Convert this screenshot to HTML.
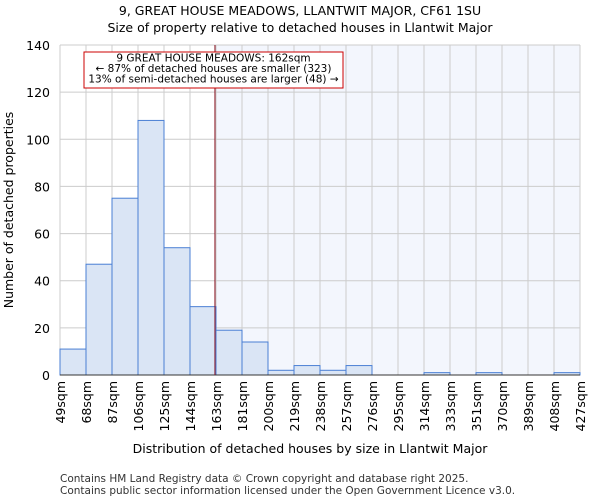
<!DOCTYPE html>
<html><head><meta charset="utf-8"><style>body{margin:0;background:#fff}svg{display:block;font-family:"DejaVu Sans","Liberation Sans",sans-serif}</style></head>
<body>
<svg width="600" height="500" viewBox="0 0 600 500">
<text x="300" y="15" text-anchor="middle" font-size="12.5">9, GREAT HOUSE MEADOWS, LLANTWIT MAJOR, CF61 1SU</text>
<text x="300" y="32" text-anchor="middle" font-size="12.5">Size of property relative to detached houses in Llantwit Major</text>
<g id="plot"></g>
<text x="310" y="453" text-anchor="middle" font-size="12.5">Distribution of detached houses by size in Llantwit Major</text>
<text transform="translate(13,210) rotate(-90)" text-anchor="middle" font-size="12.5">Number of detached properties</text>
<text x="60" y="482" font-size="10.5" fill="#333">Contains HM Land Registry data © Crown copyright and database right 2025.</text>
<text x="60" y="494" font-size="10.5" fill="#333">Contains public sector information licensed under the Open Government Licence v3.0.</text>
</svg>
<script>
const categories=["49sqm","68sqm","87sqm","106sqm","125sqm","144sqm","163sqm","181sqm","200sqm","219sqm","238sqm","257sqm","276sqm","295sqm","314sqm","333sqm","351sqm","370sqm","389sqm","408sqm","427sqm"];
const counts=[11,47,75,108,54,29,19,14,2,4,2,4,0,0,1,0,1,0,0,1];
const yTicks=[0,20,40,60,80,100,120,140];
const markerBin=6; const markerFrac=-0.04;
const NS="http://www.w3.org/2000/svg";
const g=document.getElementById('plot');
const X0=60,X1=580,Y0=375,Y1=45,YMAX=140;
const bw=(X1-X0)/counts.length;
const x=i=>X0+i*bw;
const y=v=>Y0-(v/YMAX)*(Y0-Y1);
function el(t,a){const e=document.createElementNS(NS,t);for(const k in a)e.setAttribute(k,a[k]);g.appendChild(e);return e;}
const mx=x(markerBin+markerFrac);
let r=el('rect',{x:mx,y:Y1,width:X1-mx,height:Y0-Y1,fill:'#f3f6fd'});


yTicks.forEach(v=>{let l=el('line',{x1:X0,x2:X1,y1:y(v),y2:y(v),stroke:'#ccc','stroke-width':1});


let t=el('text',{x:X0-10,y:y(v)+5,'text-anchor':'end','font-size':'12.5'});t.textContent=v;

});
categories.forEach((c,i)=>{let l=el('line',{x1:x(i),x2:x(i),y1:Y1,y2:Y0,stroke:'#ccc','stroke-width':1});


let t=el('text',{transform:`translate(${x(i)+5},${Y0+6}) rotate(-90)`,'text-anchor':'end','font-size':'12.5'});t.textContent=c;

});
counts.forEach((v,i)=>{let b=el('rect',{x:x(i),y:y(v),width:bw,height:Y0-y(v),fill:'#dae5f5',stroke:'#4a7fd4','stroke-width':1});

});
let ax=el('line',{x1:X0,x2:X1,y1:Y0,y2:Y0,stroke:'#333'});


let ml=el('line',{x1:mx,x2:mx,y1:Y1,y2:Y0,stroke:'#8a1020','stroke-width':1});


let box=el('rect',{x:84,y:52,width:259,height:36,fill:'#fff',stroke:'#c00','stroke-width':1});


["9 GREAT HOUSE MEADOWS: 162sqm","← 87% of detached houses are smaller (323)","13% of semi-detached houses are larger (48) →"].forEach((s,k)=>{
let t=el('text',{x:213.5,y:61.5+k*10.5,'text-anchor':'middle','font-size':'10.5'});t.textContent=s;

});
</script>
</body></html>
